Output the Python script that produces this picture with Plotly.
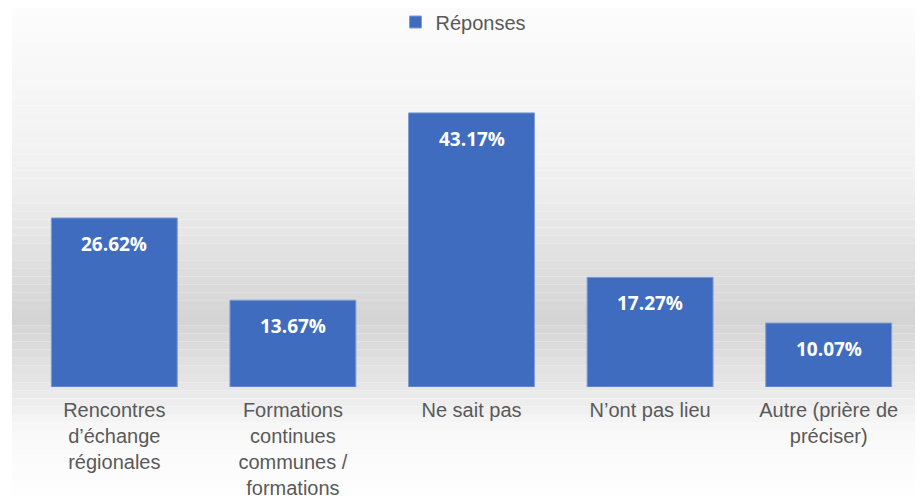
import plotly.graph_objects as go

categories = [
    "Rencontres<br>d’échange<br>régionales",
    "Formations<br>continues<br>communes /<br>formations",
    "Ne sait pas",
    "N’ont pas lieu",
    "Autre (prière de<br>préciser)",
]
responses = [26.62, 13.67, 43.17, 17.27, 10.07]
series_name = "Réponses"

BAR_COLOR = "#3f6cbf"
TEXT_GREY = "#595959"

# page body keeps an 8px margin, so the figure is a bit smaller than the window
W, H = 915, 488
L, R, T, B = 17, 5, 92, 109
PW, PH = W - L - R, H - T - B

fig = go.Figure()

fig.add_trace(go.Bar(
    x=categories,
    y=responses,
    name=series_name,
    marker=dict(color=BAR_COLOR, line=dict(color="#7e9dd6", width=1)),
    hoverinfo="skip",
))

# value labels sit a little below the top of each bar
for cat, val in zip(categories, responses):
    fig.add_annotation(
        x=cat, y=val, text=f"{val:.2f}%", showarrow=False,
        yanchor="middle", yshift=-26,
        font=dict(family="Open Sans", size=19, color="white", weight="bold"),
    )

# soft grey vertical gradient behind the chart (Excel style)
stops = [(0.0, 252), (0.35, 240), (0.64, 212), (0.77, 230), (0.87, 249), (1.0, 254)]
n = 60
for i in range(n):
    t0, t1 = i / n, (i + 1) / n
    tm = (t0 + t1) / 2
    for (a, ga), (b, gb) in zip(stops[:-1], stops[1:]):
        if a <= tm <= b:
            g = round(ga + (gb - ga) * (tm - a) / (b - a))
            break
    fig.add_shape(
        type="rect", xref="paper", yref="paper", layer="below",
        x0=(4 - L) / PW, x1=1 + R / PW,
        y0=1 + T / PH - (t0 * H) / PH, y1=1 + T / PH - (t1 * H) / PH,
        fillcolor=f"rgb({g},{g},{g})", line=dict(width=0),
    )

fig.update_layout(
    width=W,
    height=H,
    margin=dict(l=L, r=R, t=T, b=B, autoexpand=False),
    paper_bgcolor="white",
    plot_bgcolor="rgba(0,0,0,0)",
    bargap=0.295,
    showlegend=True,
    legend=dict(
        orientation="h", x=0.5 - 8 / PW, xanchor="center",
        y=1 + (T - 14) / PH, yanchor="middle",
        font=dict(family="Liberation Sans", size=20, color=TEXT_GREY),
        itemwidth=30, bgcolor="rgba(0,0,0,0)",
    ),
    xaxis=dict(
        showgrid=False, showline=False, ticks="", automargin=False,
        ticklabelstandoff=9,
        tickfont=dict(family="Liberation Sans", size=20, color=TEXT_GREY),
        fixedrange=True,
    ),
    yaxis=dict(
        range=[0, 45.2], visible=False, fixedrange=True, automargin=False,
    ),
    dragmode=False,
)

fig.write_html("out.html")
